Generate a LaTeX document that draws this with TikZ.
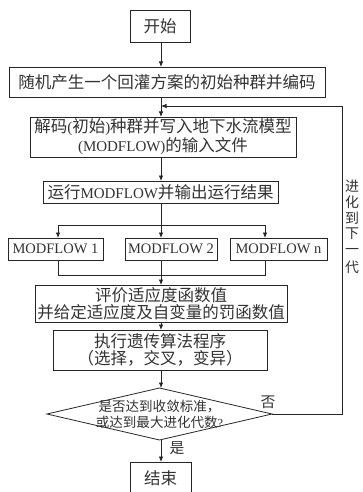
\documentclass[tikz,border=0pt]{standalone}
\usepackage{fontspec}
\setmainfont{Liberation Serif}
\newfontfamily\cjk[Scale=1.1]{Noto Sans CJK SC}
\newcommand\zh[1]{{\cjk #1}}
\usetikzlibrary{arrows.meta,shapes.geometric}
\begin{document}
\begin{tikzpicture}[x=1pt,y=-1pt,
  ln/.style={draw=black!85,line width=0.8pt},
  arr/.style={ln,-{Latex[length=5.5pt,width=4.5pt]}},
  box/.style={ln,rectangle,inner sep=0pt,outer sep=0pt,align=center,text=black!80,
    font=\fontsize{15}{18}\selectfont},
  small/.style={text=black!80,inner sep=0pt,font=\fontsize{12.3}{16}\selectfont,align=center},
  sidech/.style={text=black!80,inner sep=0pt,font=\fontsize{12.7}{15}\selectfont}]
\useasboundingbox (0,0) rectangle (363,492);
\fill[white] (0,0) rectangle (363,492);
\coordinate (col) at (161,0);

\node[box,minimum width=60pt,minimum height=32pt] (start) at (160,26) {\zh{开始}};
\node[box,minimum width=316pt,minimum height=30pt] (init) at (167,82) {\zh{随机产生一个回灌方案的初始种群并编码}};
\node[box,minimum width=266pt,minimum height=40pt,font=\fontsize{15}{19}\selectfont] (decode) at (163,137)
  {\zh{解码}(\zh{初始})\zh{种群并写入地下水流模型}\\(MODFLOW)\zh{的输入文件}};
\node[box,minimum width=235pt,minimum height=22pt] (run) at (160.5,192) {\zh{运行}MODFLOW\zh{并输出运行结果}};
\node[box,minimum width=95pt,minimum height=22pt,font=\fontsize{14.5}{18}\selectfont] (m1) at (55.5,249) {MODFLOW 1};
\node[box,minimum width=92pt,minimum height=22pt,font=\fontsize{14.5}{18}\selectfont] (m2) at (171,249) {MODFLOW 2};
\node[box,minimum width=97pt,minimum height=22pt,font=\fontsize{14.5}{18}\selectfont] (m3) at (278.5,249) {MODFLOW n};
\node[box,minimum width=252pt,minimum height=37pt,font=\fontsize{15}{16.5}\selectfont] (eval) at (161,303.5)
  {\zh{评价适应度函数值}\\\zh{并给定适应度及自变量的罚函数值}};
\node[box,minimum width=214pt,minimum height=40pt,font=\fontsize{15}{17}\selectfont] (ga) at (160,350)
  {\zh{执行遗传算法程序}\\\zh{（选择，交叉，变异）}};
\node[ln,diamond,minimum width=225pt,minimum height=52pt,inner sep=0pt,outer sep=0pt] (dec) at (159.5,414) {};
\node[small] (dectext) at (dec.center) {\zh{是否达到收敛标准，}\\\zh{或达到最大进化代数}?};
\node[box,minimum width=61pt,minimum height=32pt] (end) at (160.5,478) {\zh{结束}};

\node[small,font=\fontsize{13.5}{16}\selectfont] (no) at (268,402) {\zh{否}};
\node[small,font=\fontsize{13.5}{16}\selectfont] (yes) at (177,448) {\zh{是}};
\node[sidech] (s1) at (352,186) {\zh{进}};
\node[sidech] (s2) at (352,202) {\zh{化}};
\node[sidech] (s3) at (352,218) {\zh{到}};
\node[sidech] (s4) at (352,234) {\zh{下}};
\node[sidech] (s5) at (352,251) {\zh{一}};
\node[sidech] (s6) at (352,267) {\zh{代}};

\coordinate (sL) at (58,225);
\coordinate (sR) at (265,225);
\coordinate (jL) at (58,275);
\coordinate (jR) at (265,275);
\coordinate (fb) at (342,106);

\draw[arr] (start.south -| col) -- (col |- init.north);
\draw[arr] (col |- init.south) -- (col |- decode.north);
\draw[arr] (col |- decode.south) -- (col |- run.north);
\draw[ln] (col |- run.south) -- (col |- sL);
\draw[ln] (sL) -- (sR);
\draw[arr] (sL) -- (sL |- m1.north);
\draw[arr] (col |- sL) -- (col |- m2.north);
\draw[arr] (sR) -- (sR |- m3.north);
\draw[ln] (sL |- m1.south) -- (jL) -- (jR) -- (sR |- m3.south);
\draw[arr] (col |- m2.south) -- (col |- eval.north);
\draw[arr] (col |- eval.south) -- (col |- ga.north);
\draw[arr] (col |- ga.south) -- (col |- dec.north);
\draw[arr] (col |- dec.south) -- (col |- end.north);
\draw[arr] (dec.east) -| (fb) -- (col |- fb);
\end{tikzpicture}
\end{document}
